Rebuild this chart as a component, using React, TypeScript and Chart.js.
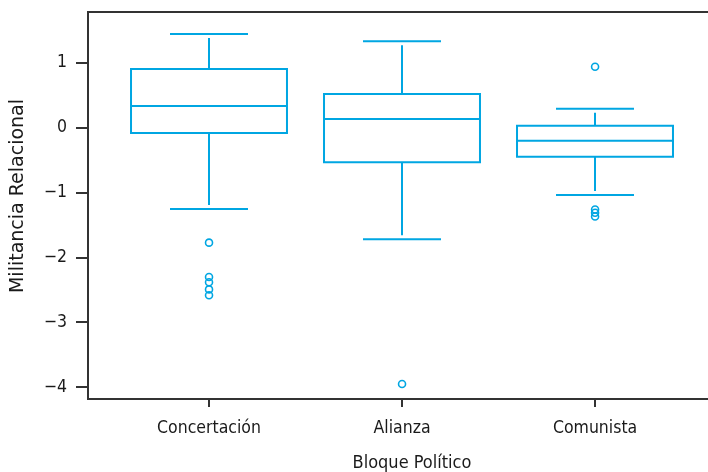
import { useEffect, useRef } from 'react';
import { Chart, registerables } from 'chart.js';

Chart.register(...registerables);

const categories = ['Concertación', 'Alianza', 'Comunista'];
const whiskerHigh = [1.445, 1.333, 0.294];
const q3 = [0.906, 0.521, 0.032];
const medians = [0.336, 0.136, -0.199];
const q1 = [-0.08, -0.532, -0.445];
const whiskerLow = [-1.251, -1.718, -1.035];
const outliers = [
  [-1.77, -2.3, -2.38, -2.49, -2.58],
  [-3.947],
  [0.94, -1.26, -1.31, -1.367],
];
const yTicks = [-4, -3, -2, -1, 0, 1];
const xTitle = 'Bloque Político';
const yTitle = 'Militancia Relacional';

const COLOR = '#00a6e2';
const AXIS = '#333333';
const TEXT = '#1a1a1a';
const FONT = 'DejaVu Sans Condensed';

const zeroPad = (s: any) => {
  s.paddingTop = 0;
  s.paddingBottom = 0;
  s.paddingLeft = 0;
  s.paddingRight = 0;
};

const boxPlugin = {
  id: 'boxes',
  afterDatasetsDraw(chart: any) {
    const { ctx, scales, chartArea } = chart;
    const x = scales.x;
    const y = scales.y;
    ctx.save();
    ctx.strokeStyle = COLOR;
    ctx.lineWidth = 2;
    categories.forEach((_, i) => {
      const cx = Math.round(x.getPixelForValue(i + 1));
      const half = x.getPixelForValue(i + 1 + 0.404) - x.getPixelForValue(i + 1);
      const capHalf = half / 2;
      const yq1 = y.getPixelForValue(q1[i]);
      const yq3 = y.getPixelForValue(q3[i]);
      const ymed = y.getPixelForValue(medians[i]);
      const yhi = y.getPixelForValue(whiskerHigh[i]);
      const ylo = y.getPixelForValue(whiskerLow[i]);
      ctx.beginPath();
      ctx.rect(cx - half, yq3, 2 * half, yq1 - yq3);
      ctx.moveTo(cx - half, ymed);
      ctx.lineTo(cx + half, ymed);
      ctx.moveTo(cx, yq3);
      ctx.lineTo(cx, yhi + 4);
      ctx.moveTo(cx - capHalf, yhi);
      ctx.lineTo(cx + capHalf, yhi);
      ctx.moveTo(cx, yq1);
      ctx.lineTo(cx, ylo - 4);
      ctx.moveTo(cx - capHalf, ylo);
      ctx.lineTo(cx + capHalf, ylo);
      ctx.stroke();
    });
    // top frame line
    ctx.strokeStyle = AXIS;
    ctx.lineWidth = 2;
    ctx.beginPath();
    ctx.moveTo(chartArea.left - 1, chartArea.top);
    ctx.lineTo(chartArea.right, chartArea.top);
    ctx.stroke();
    // axis titles
    ctx.fillStyle = TEXT;
    ctx.textAlign = 'center';
    ctx.textBaseline = 'middle';
    ctx.font = `18px "${FONT}"`;
    ctx.fillText(xTitle, 412, 463);
    ctx.font = `19px "DejaVu Sans"`;
    ctx.translate(18, 196);
    ctx.rotate(-Math.PI / 2);
    ctx.fillText(yTitle, 0, 0);
    ctx.restore();
  },
};

export default function App() {
  const ref = useRef<HTMLCanvasElement | null>(null);
  useEffect(() => {
    if (!ref.current) return;
    const points = outliers.flatMap((arr, i) => arr.map((v) => ({ x: i + 1, y: v })));
    const chart = new Chart(ref.current, {
      type: 'scatter',
      data: {
        datasets: [
          {
            data: points,
            pointRadius: 3.5,
            pointBorderWidth: 1.6,
            pointBackgroundColor: 'rgba(0,0,0,0)',
            pointBorderColor: COLOR,
            borderColor: COLOR,
            showLine: false,
          },
        ],
      },
      options: {
        responsive: false,
        animation: false,
        events: [],
        layout: { autoPadding: false, padding: { top: 12, left: 0, right: 0, bottom: 0 } },
        plugins: { legend: { display: false }, tooltip: { enabled: false } },
        scales: {
          x: {
            type: 'linear',
            min: 0.373,
            max: 3.585,
            afterBuildTicks: (s: any) => {
              s.ticks = [1, 2, 3].map((v) => ({ value: v }));
            },
            afterFit: (s: any) => {
              s.height = 73;
              zeroPad(s);
            },
            grid: { drawOnChartArea: false, drawTicks: true, tickLength: 8, color: AXIS, lineWidth: 2 },
            border: { display: true, color: AXIS, width: 2 },
            ticks: {
              padding: 11,
              autoSkip: false,
              maxRotation: 0,
              color: TEXT,
              font: { family: FONT, size: 17.5 },
              callback: (v: any) => categories[Number(v) - 1] ?? '',
            },
          },
          y: {
            type: 'linear',
            min: -4.179,
            max: 1.784,
            afterBuildTicks: (s: any) => {
              s.ticks = yTicks.map((v) => ({ value: v }));
            },
            afterFit: (s: any) => {
              s.width = 88;
              zeroPad(s);
            },
            grid: { drawOnChartArea: false, drawTicks: true, tickLength: 12, color: AXIS, lineWidth: 2 },
            border: { display: true, color: AXIS, width: 2 },
            ticks: {
              padding: 9,
              color: TEXT,
              font: { family: FONT, size: 17.5 },
              callback: (v: any) => (Number(v) < 0 ? '\u2212' + Math.abs(Number(v)) : String(v)),
            },
          },
        },
      },
      plugins: [boxPlugin],
    });
    return () => chart.destroy();
  }, []);
  return (
    <div style={{ position: 'fixed', left: 0, top: 0, width: 708, height: 472, background: '#fff' }}>
      <canvas ref={ref} width={708} height={472} style={{ display: 'block' }} />
    </div>
  );
}
